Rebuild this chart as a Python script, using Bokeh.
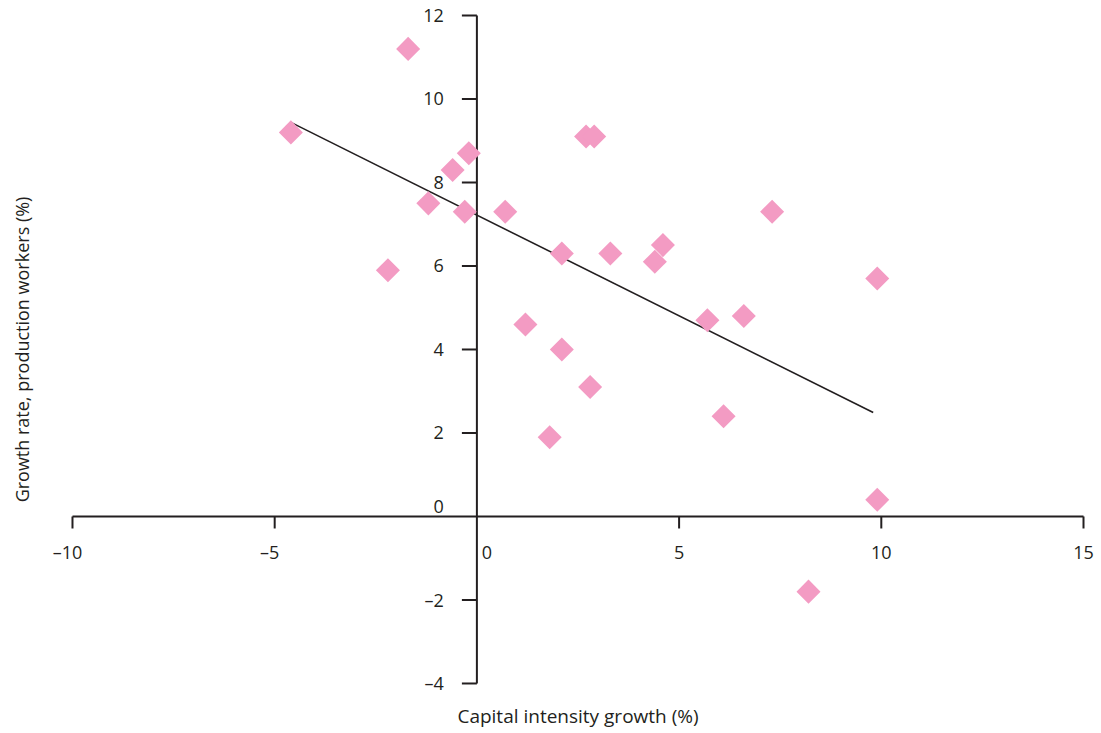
from bokeh.plotting import figure
from bokeh.models import Range1d, ColumnDataSource
from bokeh.core.properties import value
from bokeh.embed import file_html
from bokeh.resources import INLINE
import math

# ---- data ----
cap_growth = [-4.6, -1.7, -2.2, -1.2, -0.6, -0.2, -0.3, 0.7, 2.1, 1.2, 2.1, 1.8, 2.8,
              2.7, 2.9, 3.3, 4.4, 4.6, 5.7, 6.6, 6.1, 7.3, 9.9, 9.9, 8.2]
worker_growth = [9.2, 11.2, 5.9, 7.5, 8.3, 8.7, 7.3, 7.3, 6.3, 4.6, 4.0, 1.9, 3.1,
                 9.1, 9.1, 6.3, 6.1, 6.5, 4.7, 4.8, 2.4, 7.3, 5.7, 0.4, -1.8]
trend_x = [-4.6, 9.8]
trend_y = [9.44, 2.49]
x_ticks = [-10, -5, 0, 5, 10, 15]
x_tick_labels = ["\u201310", "\u20135", "0", "5", "10", "15"]
y_ticks = [-4, -2, 0, 2, 4, 6, 8, 10, 12]
y_tick_labels = ["\u20134", "\u20132", "0", "2", "4", "6", "8", "10", "12"]
x_title = "Capital intensity growth (%)"
y_title = "Growth rate, production workers (%)"

W, H = 1101, 733
XR = (-11.780, 15.445)
YR = (-5.198, 12.359)
px_x = W / (XR[1] - XR[0])
px_y = H / (YR[1] - YR[0])

INK = "#231f20"
PINK = "#f39bc3"
FONT = value("Open Sans")
FS = "18px"

p = figure(width=W, height=H, x_range=Range1d(*XR), y_range=Range1d(*YR),
           output_backend="svg", toolbar_location=None,
           x_axis_location=None, y_axis_location=None, min_border=0)
p.outline_line_color = None
p.xgrid.visible = False
p.ygrid.visible = False
p.background_fill_color = "white"
p.border_fill_color = "white"

# axis lines
p.segment(x0=[x_ticks[0]], y0=[0], x1=[x_ticks[-1]], y1=[0], line_color=INK, line_width=2)
p.segment(x0=[0], y0=[y_ticks[0]], x1=[0], y1=[y_ticks[-1]], line_color=INK, line_width=2)

# ticks
xt = [t for t in x_ticks if t != 0]
p.segment(x0=xt, y0=[0] * len(xt), x1=xt, y1=[-12 / px_y] * len(xt), line_color=INK, line_width=2)
yt = [t for t in y_ticks if t != 0]
p.segment(x0=[0] * len(yt), y0=yt, x1=[-15 / px_x] * len(yt), y1=yt, line_color=INK, line_width=2)

# tick labels
xl_src = ColumnDataSource(dict(
    x=x_ticks, y=[0] * len(x_ticks), t=x_tick_labels,
    xo=[10 if v == 0 else (-5 if v < 0 else 0) for v in x_ticks],
))
p.text(x="x", y="y", text="t", source=xl_src, x_offset="xo", y_offset=36,
       text_align="center", text_baseline="middle", text_font=FONT,
       text_font_size=FS, text_color=INK)
yl_src = ColumnDataSource(dict(
    x=[0] * len(y_ticks), y=y_ticks, t=y_tick_labels,
    yo=[-10 if v == 0 else 0 for v in y_ticks],
))
p.text(x="x", y="y", text="t", source=yl_src, x_offset=-33, y_offset="yo",
       text_align="right", text_baseline="middle", text_font=FONT,
       text_font_size=FS, text_color=INK)

# axis titles
p.text(x=[(x_ticks[0] + x_ticks[-1]) / 2], y=[y_ticks[0]], text=[x_title], y_offset=33,
       text_align="center", text_baseline="middle", text_font=FONT,
       text_font_size="19px", text_color=INK)
p.text(x=[x_ticks[0]], y=[(y_ticks[0] + y_ticks[-1]) / 2], text=[y_title], x_offset=-50,
       angle=math.pi / 2, text_align="center", text_baseline="middle", text_font=FONT,
       text_font_size=FS, text_color=INK)

# trend line
p.line(trend_x, trend_y, line_color=INK, line_width=1.6)

# points
p.scatter(cap_growth, worker_growth, marker="square", size=17, angle=math.pi / 4,
          fill_color=PINK, line_color=None)

open("out.html", "w").write(file_html(p, INLINE))
